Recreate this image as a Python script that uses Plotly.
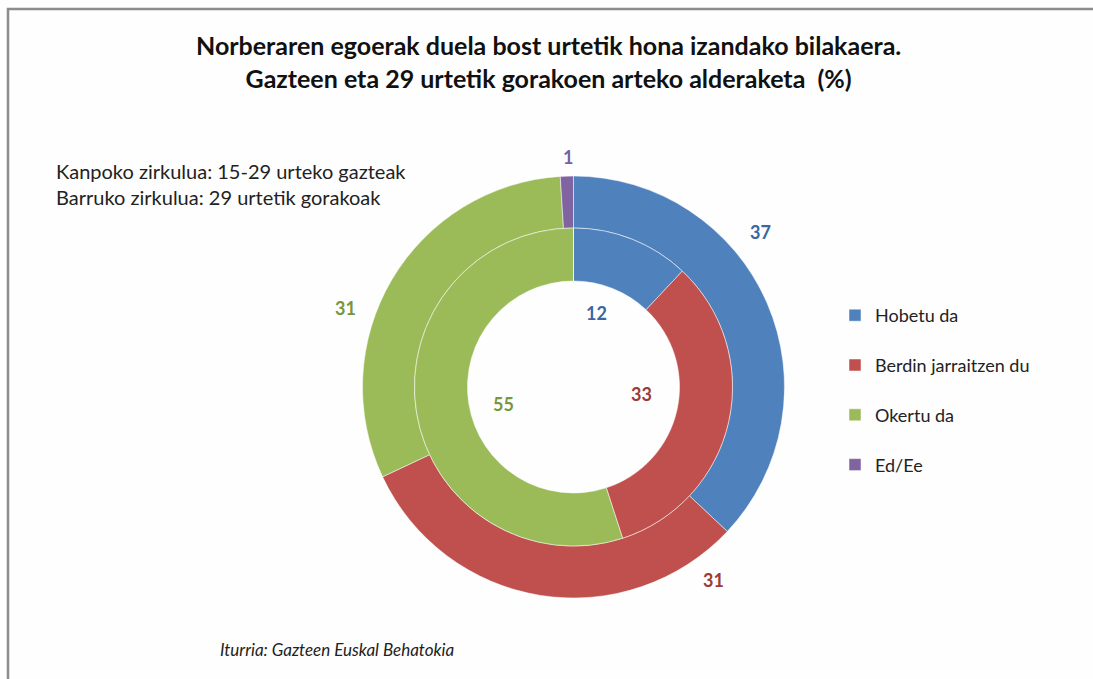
import plotly.graph_objects as go

categories = ["Hobetu da", "Berdin jarraitzen du", "Okertu da", "Ed/Ee"]
outer_values = [37, 31, 31, 1]   # Kanpoko zirkulua: 15-29 urteko gazteak
inner_values = [12, 33, 55, 0]   # Barruko zirkulua: 29 urtetik gorakoak
colors = ["#4F81BD", "#C0504D", "#9BBB59", "#8064A2"]
label_colors = ["#3A66A3", "#9B3B38", "#78973A", "#7A5FA0"]

title_lines = ["Norberaren egoerak duela bost urtetik hona izandako bilakaera.",
               "Gazteen eta 29 urtetik gorakoen arteko alderaketa  (%)"]
note_lines = ["Kanpoko zirkulua: 15-29 urteko gazteak",
              "Barruko zirkulua: 29 urtetik gorakoak"]
source_text = "Iturria: Gazteen Euskal Behatokia"

W, H = 1093, 679
cx, cy = 573.5, 387.0
R_out, R_mid, R_in = 211.0, 159.0, 106.0

def dom(r):
    return dict(x=[(cx - r) / W, (cx + r) / W],
                y=[(H - cy - r) / H, (H - cy + r) / H])

legend_labels = [c + "<br> " for c in categories]

fig = go.Figure()
fig.add_trace(go.Pie(
    labels=legend_labels, values=outer_values, hole=R_mid / R_out,
    domain=dom(R_out), sort=False, direction="clockwise", rotation=0,
    marker=dict(colors=colors, line=dict(color="white", width=0.5)),
    textinfo="none", hoverinfo="label+value", showlegend=True,
))
fig.add_trace(go.Pie(
    labels=legend_labels, values=inner_values, hole=R_in / R_mid,
    domain=dom(R_mid), sort=False, direction="clockwise", rotation=0,
    marker=dict(colors=colors, line=dict(color="white", width=0.5)),
    textinfo="none", hoverinfo="label+value", showlegend=False,
))

# data label placement (pixel positions, as in the reference)
outer_label_pos = [(760, 232), (713, 580), (345, 308), (568, 157)]
inner_label_pos = [(597, 313), (641, 394), (503, 404), None]

def px(x, y):
    return x / W, 1 - y / H

annotations = []
for vals, poss in ((outer_values, outer_label_pos), (inner_values, inner_label_pos)):
    for i, (v, p) in enumerate(zip(vals, poss)):
        if p is None or v == 0:
            continue
        x, y = px(*p)
        annotations.append(dict(
            x=x, y=y, xref="paper", yref="paper", xanchor="center", yanchor="middle",
            text=f"<b>{v}</b>", showarrow=False,
            font=dict(family="Lato, sans-serif", size=18, color=label_colors[i]),
        ))

x, y = px(548, 61)
annotations.append(dict(
    x=x, y=y, xref="paper", yref="paper", xanchor="center", yanchor="middle",
    showarrow=False, text="<b>" + "<br>".join(title_lines) + "</b>",
    font=dict(family="Lato, sans-serif", size=25, color="#111111"),
    align="center",
))
x, y = px(54, 184)
annotations.append(dict(
    x=x, y=y, xref="paper", yref="paper", xanchor="left", yanchor="middle",
    showarrow=False, text="<br>".join(note_lines), align="left",
    font=dict(family="Lato, sans-serif", size=20, color="#222222"),
))
x, y = px(218, 649)
annotations.append(dict(
    x=x, y=y, xref="paper", yref="paper", xanchor="left", yanchor="middle",
    showarrow=False, text="<i>" + source_text + "</i>",
    font=dict(family="Lato, sans-serif", size=17, color="#222222"),
))

fig.update_layout(
    width=W, height=H,
    margin=dict(l=0, r=0, t=0, b=0),
    paper_bgcolor="#FEFEFE", plot_bgcolor="#FEFEFE",
    showlegend=True,
    legend=dict(x=835 / W, y=1 - 297 / H, xanchor="left", yanchor="top",
                valign="top", traceorder="normal",
                font=dict(family="Lato, sans-serif", size=18, color="#222222"),
                bgcolor="rgba(0,0,0,0)"),
    annotations=annotations,
    shapes=[dict(type="rect", xref="paper", yref="paper",
                 x0=8 / W, x1=1.1, y0=-0.1, y1=1 - 9 / H,
                 line=dict(color="#8C8C8C", width=2.5), fillcolor="rgba(0,0,0,0)")],
)

fig.write_html("out.html", config={"displayModeBar": False},
               post_script="document.body.style.margin='0';document.body.style.overflow='hidden';")
